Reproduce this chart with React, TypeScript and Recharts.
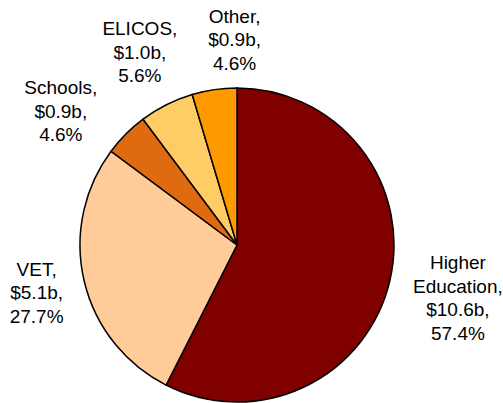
import React from 'react';
import { PieChart, Pie, Cell } from 'recharts';

const sectors = ['Higher Education', 'VET', 'Schools', 'ELICOS', 'Other'];
const revenue = [10.6, 5.1, 0.9, 1.0, 0.9];
const share = [57.4, 27.7, 4.6, 5.6, 4.6];
const colors = ['#800000', '#FFCC99', '#E06A10', '#FFCC66', '#FF9900'];

const data = sectors.map((name, i) => ({ name, revenue: revenue[i], share: share[i] }));

const RADIAN = Math.PI / 180;
const FONT_SIZE = 19;
const LINE_HEIGHT = 23.5;
const START = 90;
const MIN_SEP = 26; // degrees between neighbouring labels

// label angles: slice mid angles, spread apart where small slices crowd together
const total = share.reduce((a, b) => a + b, 0);
const labelAngles = (() => {
  let cum = 0;
  const a = share.map((s) => {
    const mid = START - ((cum + s / 2) / total) * 360;
    cum += s;
    return mid;
  });
  for (let it = 0; it < 200; it++) {
    for (let i = 0; i < a.length - 1; i++) {
      const d = a[i] - a[i + 1];
      if (d < MIN_SEP) {
        const shift = (MIN_SEP - d) / 2;
        a[i] += shift;
        a[i + 1] -= shift;
      }
    }
  }
  return a;
})();

const renderLabel = (props: any) => {
  const { cx, cy, outerRadius, payload, index } = props;
  const lines = [
    ...payload.name.split(' ').map((w: string, i: number, arr: string[]) => (i === arr.length - 1 ? w + ',' : w)),
    `$${payload.revenue.toFixed(1)}b,`,
    `${payload.share.toFixed(1)}%`,
  ];
  const maxLen = Math.max(...lines.map((l) => l.length));
  const halfW = (maxLen * FONT_SIZE * 0.5) / 2;
  const halfH = (lines.length * LINE_HEIGHT) / 2;
  const angle = labelAngles[index];
  const cos = Math.cos(-angle * RADIAN);
  const sin = Math.sin(-angle * RADIAN);
  // push the text block out so its edge sits a small gap off the rim
  const dist = outerRadius + 13 + Math.abs(cos) * halfW + Math.abs(sin) * halfH;
  const x = cx + dist * cos;
  const y = cy + dist * sin;
  const top = y - ((lines.length - 1) / 2) * LINE_HEIGHT;
  return (
    <text
      key={`label-${index}`}
      x={x}
      y={top}
      textAnchor="middle"
      dominantBaseline="central"
      fill="#000"
      fontSize={FONT_SIZE}
      fontFamily="'Liberation Sans', Arial, sans-serif"
    >
      {lines.map((l, i) => (
        <tspan key={i} x={x} y={top + i * LINE_HEIGHT}>
          {l}
        </tspan>
      ))}
    </text>
  );
};

export default function App() {
  return (
    <div style={{ position: 'fixed', left: 0, top: 0, width: 503, height: 403, background: '#fff' }}>
      <PieChart width={503} height={403} margin={{ top: 0, right: 0, bottom: 0, left: 0 }}>
        <Pie
          data={data}
          dataKey="share"
          nameKey="name"
          cx={237}
          cy={245}
          outerRadius={157}
          startAngle={START}
          endAngle={START - 360}
          stroke="#000"
          strokeWidth={1.5}
          label={renderLabel}
          labelLine={false}
          isAnimationActive={false}
        >
          {data.map((d, i) => (
            <Cell key={d.name} fill={colors[i]} />
          ))}
        </Pie>
      </PieChart>
    </div>
  );
}
